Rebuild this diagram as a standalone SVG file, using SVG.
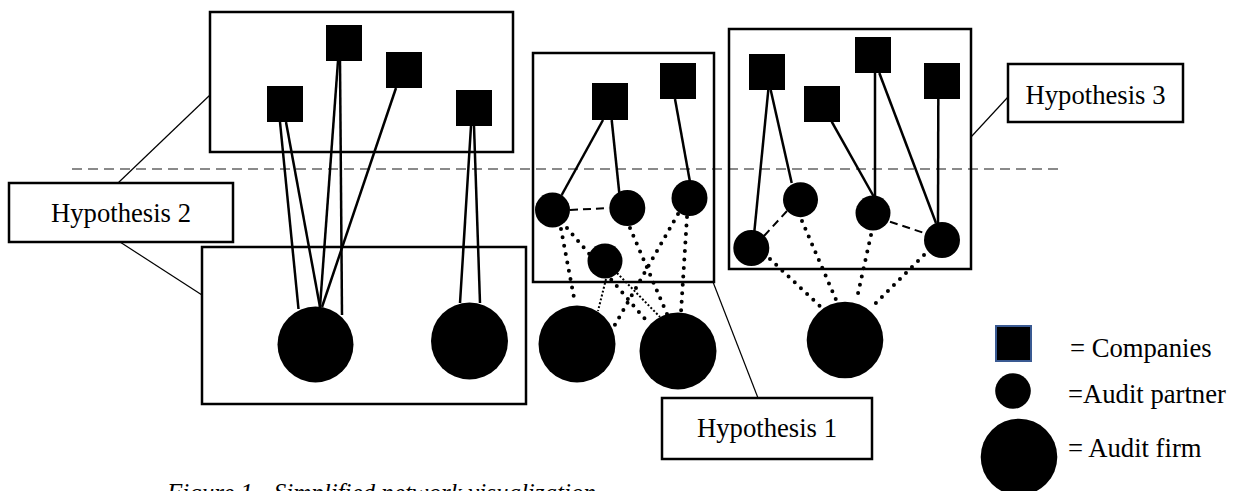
<svg xmlns="http://www.w3.org/2000/svg" width="1233" height="491" viewBox="0 0 1233 491">
<style>
  .frame{fill:none;stroke:#000;stroke-width:2.5}
  .label rect{fill:#fff;stroke:#000;stroke-width:2.5}
  .label text, .legend text{font-family:"Liberation Serif","Times New Roman",serif;font-size:26.67px;fill:#000}
  .co{fill:#000}
  .node{fill:#000}
  .solid{stroke:#000;stroke-width:2.5;fill:none}
  .dash{stroke:#000;stroke-width:2;stroke-dasharray:8 5;fill:none}
  .dot{stroke:#000;stroke-width:4;stroke-linecap:round;stroke-dasharray:0 8.5;fill:none}
  .thin{stroke:#000;stroke-width:2;stroke-dasharray:2 2;fill:none}
  .lead{stroke:#000;stroke-width:1.2;fill:none}
  .divider{stroke:#8a8a8a;stroke-width:2;stroke-dasharray:10 6;fill:none}
</style>
<rect width="1233" height="491" fill="#fff"/>

<!-- divider line -->
<line class="divider" x1="72" y1="169" x2="1062" y2="169"/>

<!-- group frames -->
<g id="frames">
  <rect class="frame" x="210" y="12" width="303" height="140"/>
  <rect class="frame" x="202" y="247" width="324" height="157"/>
  <rect class="frame" x="533" y="53" width="181" height="229"/>
  <rect class="frame" x="729" y="29" width="242" height="240"/>
</g>

<!-- connectors -->
<g id="connectors">
  <!-- label leaders -->
  <line class="lead" x1="118" y1="183" x2="210" y2="95"/>
  <line class="lead" x1="120" y1="242" x2="202" y2="295"/>
  <line class="lead" x1="713" y1="282" x2="758" y2="398"/>
  <line class="lead" x1="1008" y1="97" x2="971" y2="137"/>

  <!-- Hypothesis 2 -->
  <line class="solid" x1="280" y1="122" x2="298.5" y2="309"/>
  <line class="solid" x1="286" y1="122" x2="320" y2="307"/>
  <line class="solid" x1="338" y1="61" x2="320" y2="307"/>
  <line class="solid" x1="340" y1="61" x2="342" y2="315"/>
  <line class="solid" x1="396" y1="88" x2="322" y2="307"/>
  <line class="solid" x1="471" y1="126" x2="460" y2="303"/>
  <line class="solid" x1="474" y1="126" x2="480" y2="303"/>

  <!-- Hypothesis 1 -->
  <line class="solid" x1="603" y1="120" x2="561.7" y2="195"/>
  <line class="solid" x1="611.7" y1="120" x2="619.3" y2="193"/>
  <line class="solid" x1="675" y1="99" x2="690" y2="182"/>
  <line class="dash" x1="570" y1="210" x2="609" y2="208"/>
  <line class="dot" x1="561" y1="229" x2="575" y2="303"/>
  <line class="dot" x1="567" y1="228" x2="645" y2="319"/>
  <line class="dot" x1="630" y1="228" x2="667" y2="314"/>
  <line class="dot" x1="678" y1="214" x2="612" y2="330"/>
  <line class="dot" x1="687" y1="217" x2="681" y2="312"/>
  <line class="thin" x1="606" y1="279" x2="598" y2="311"/>
  <line class="thin" x1="617" y1="273" x2="660" y2="317"/>

  <!-- Hypothesis 3 -->
  <line class="solid" x1="768.3" y1="90" x2="754.3" y2="232"/>
  <line class="solid" x1="770.7" y1="90" x2="791.7" y2="183"/>
  <line class="solid" x1="831.7" y1="121.7" x2="874" y2="197"/>
  <line class="solid" x1="875" y1="73" x2="875" y2="196"/>
  <line class="solid" x1="879.3" y1="73" x2="936" y2="223"/>
  <line class="solid" x1="938.3" y1="99" x2="938" y2="223"/>
  <line class="dash" x1="764" y1="236" x2="787" y2="211"/>
  <line class="dash" x1="890" y1="221.7" x2="925" y2="233.3"/>
  <line class="dot" x1="770" y1="259" x2="822" y2="308"/>
  <line class="dot" x1="802" y1="221" x2="837" y2="302"/>
  <line class="dot" x1="871" y1="235" x2="857" y2="298"/>
  <line class="dot" x1="924" y1="255" x2="873" y2="306"/>
</g>

<!-- Hypothesis 2 nodes -->
<g id="h2-company-a"><rect class="co" x="267" y="86" width="36" height="36"/></g>
<g id="h2-company-b"><rect class="co" x="326" y="25" width="36" height="36"/></g>
<g id="h2-company-c"><rect class="co" x="386" y="52" width="36" height="36"/></g>
<g id="h2-company-d"><rect class="co" x="456" y="90" width="36" height="36"/></g>
<g id="h2-firm-1"><circle class="node" cx="315.5" cy="344.5" r="38"/></g>
<g id="h2-firm-2"><circle class="node" cx="469.5" cy="341" r="38.5"/></g>

<!-- Hypothesis 1 nodes -->
<g id="h1-company-a"><rect class="co" x="592" y="83" width="36" height="37"/></g>
<g id="h1-company-b"><rect class="co" x="660" y="63" width="36" height="36"/></g>
<g id="h1-partner-1"><circle class="node" cx="552.5" cy="210" r="17.5"/></g>
<g id="h1-partner-2"><circle class="node" cx="627.3" cy="208" r="18"/></g>
<g id="h1-partner-3"><circle class="node" cx="689.5" cy="198" r="18"/></g>
<g id="h1-partner-4"><circle class="node" cx="605" cy="261" r="17.5"/></g>
<g id="h1-firm-1"><circle class="node" cx="577" cy="344" r="38.5"/></g>
<g id="h1-firm-2"><circle class="node" cx="678" cy="351" r="38.5"/></g>

<!-- Hypothesis 3 nodes -->
<g id="h3-company-a"><rect class="co" x="749" y="54" width="36" height="36"/></g>
<g id="h3-company-b"><rect class="co" x="804" y="86" width="36" height="36"/></g>
<g id="h3-company-c"><rect class="co" x="855" y="37" width="36" height="36"/></g>
<g id="h3-company-d"><rect class="co" x="924" y="63" width="36" height="36"/></g>
<g id="h3-partner-1"><circle class="node" cx="751.3" cy="248" r="18"/></g>
<g id="h3-partner-2"><circle class="node" cx="800.5" cy="199.7" r="17.5"/></g>
<g id="h3-partner-3"><circle class="node" cx="873" cy="213" r="17.5"/></g>
<g id="h3-partner-4"><circle class="node" cx="942" cy="240" r="18"/></g>
<g id="h3-firm"><circle class="node" cx="845" cy="340" r="38.3"/></g>

<!-- labels -->
<g id="label-h2" class="label">
  <rect x="9" y="183" width="224" height="59"/>
  <text x="121" y="222" text-anchor="middle">Hypothesis 2</text>
</g>
<g id="label-h1" class="label">
  <rect x="662" y="398" width="210" height="61"/>
  <text x="767" y="437" text-anchor="middle">Hypothesis 1</text>
</g>
<g id="label-h3" class="label">
  <rect x="1008" y="64" width="175" height="58"/>
  <text x="1095.5" y="104" text-anchor="middle">Hypothesis 3</text>
</g>

<!-- legend -->
<g id="legend" class="legend">
  <rect x="996" y="326" width="35" height="35" fill="#000" stroke="#3a5a92" stroke-width="2"/>
  <circle cx="1013" cy="391" r="17.8" fill="#000"/>
  <circle cx="1019" cy="457" r="38.3" fill="#000"/>
  <text x="1070" y="357">= Companies</text>
  <text x="1068" y="403">=Audit partner</text>
  <text x="1068" y="457">= Audit firm</text>
</g>

<!-- caption (cut off at bottom edge) -->
<text x="167" y="501" font-family="'Liberation Serif','Times New Roman',serif" font-style="italic" font-size="25" fill="#000">Figure 1 - Simplified network visualization</text>
</svg>
